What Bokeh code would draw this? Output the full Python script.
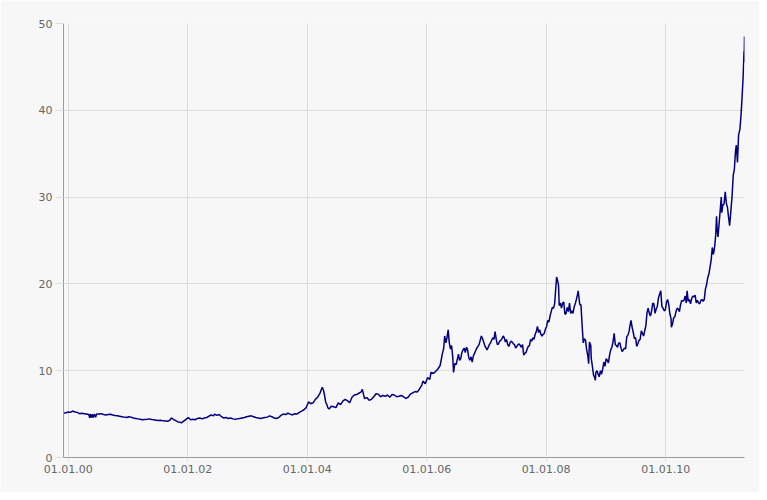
import pandas as pd
from bokeh.plotting import figure
from bokeh.models import FixedTicker, DatetimeTickFormatter, Range1d, ColumnDataSource
from bokeh.embed import file_html
from bokeh.resources import INLINE

# ---- data ----
price_points = """
1999-12-03 5.10
1999-12-17 5.15
2000-01-03 5.25
2000-01-14 5.20
2000-01-28 5.35
2000-02-11 5.25
2000-02-25 5.20
2000-03-10 5.05
2000-03-24 5.10
2000-04-07 5.05
2000-04-21 5.00
2000-05-05 4.95
2000-05-12 4.55
2000-05-15 5.00
2000-05-22 4.60
2000-05-26 4.98
2000-06-02 4.62
2000-06-09 5.00
2000-06-16 4.65
2000-06-23 5.02
2000-07-07 5.00
2000-07-21 5.05
2000-08-04 4.95
2000-08-18 4.90
2000-09-01 4.95
2000-09-15 4.98
2000-09-29 4.90
2000-10-13 4.85
2000-10-27 4.80
2000-11-10 4.75
2000-11-24 4.70
2000-12-08 4.65
2000-12-22 4.60
2001-01-05 4.70
2001-01-19 4.65
2001-02-02 4.55
2001-02-16 4.50
2001-03-02 4.45
2001-03-16 4.40
2001-03-30 4.35
2001-04-13 4.38
2001-04-27 4.40
2001-05-11 4.45
2001-05-25 4.38
2001-06-08 4.35
2001-06-22 4.30
2001-07-06 4.25
2001-07-20 4.28
2001-08-03 4.22
2001-08-17 4.20
2001-08-31 4.18
2001-09-14 4.30
2001-09-21 4.55
2001-10-05 4.40
2001-10-19 4.25
2001-11-02 4.10
2001-11-16 4.05
2001-11-23 4.00
2001-12-07 4.20
2001-12-21 4.40
2002-01-04 4.60
2002-01-18 4.35
2002-02-01 4.40
2002-02-15 4.35
2002-03-01 4.50
2002-03-15 4.55
2002-03-29 4.45
2002-04-12 4.55
2002-04-26 4.60
2002-05-10 4.75
2002-05-24 4.90
2002-06-07 4.80
2002-06-14 5.00
2002-06-28 4.85
2002-07-12 4.95
2002-07-26 4.70
2002-08-09 4.55
2002-08-23 4.60
2002-09-06 4.50
2002-09-20 4.55
2002-10-04 4.45
2002-10-18 4.40
2002-11-01 4.45
2002-11-15 4.50
2002-11-29 4.55
2002-12-13 4.60
2002-12-27 4.70
2003-01-10 4.75
2003-01-24 4.80
2003-02-07 4.70
2003-02-21 4.60
2003-03-07 4.55
2003-03-21 4.50
2003-04-04 4.55
2003-04-18 4.60
2003-05-02 4.65
2003-05-16 4.80
2003-05-30 4.70
2003-06-13 4.55
2003-06-27 4.50
2003-07-11 4.60
2003-07-25 4.85
2003-08-08 5.00
2003-08-22 4.95
2003-09-05 5.10
2003-09-19 5.00
2003-10-03 4.90
2003-10-17 5.05
2003-10-31 5.00
2003-11-14 5.20
2003-11-28 5.35
2003-12-12 5.50
2003-12-26 5.75
2004-01-09 6.40
2004-01-23 6.20
2004-02-06 6.30
2004-02-20 6.70
2004-03-05 6.95
2004-03-19 7.40
2004-04-02 8.10
2004-04-09 7.80
2004-04-16 7.20
2004-04-23 6.40
2004-04-30 6.10
2004-05-07 5.70
2004-05-14 5.60
2004-05-28 5.90
2004-06-11 5.85
2004-06-25 5.75
2004-07-09 6.30
2004-07-23 6.10
2004-08-06 6.50
2004-08-20 6.70
2004-09-03 6.55
2004-09-17 6.30
2004-10-01 6.95
2004-10-15 7.20
2004-10-29 7.25
2004-11-12 7.40
2004-11-26 7.55
2004-12-03 7.85
2004-12-10 7.30
2004-12-17 6.80
2004-12-31 6.90
2005-01-14 6.60
2005-01-28 6.70
2005-02-11 7.00
2005-02-25 7.35
2005-03-11 7.30
2005-03-25 7.00
2005-04-08 7.15
2005-04-22 7.05
2005-05-06 7.20
2005-05-20 6.95
2005-06-03 7.25
2005-06-17 7.20
2005-07-01 7.00
2005-07-15 7.05
2005-07-29 7.15
2005-08-12 7.00
2005-08-26 6.80
2005-09-09 6.95
2005-09-23 7.30
2005-10-07 7.45
2005-10-21 7.60
2005-11-04 7.55
2005-11-18 7.90
2005-12-02 8.35
2005-12-09 8.80
2005-12-23 8.50
2006-01-06 9.20
2006-01-20 9.00
2006-01-27 9.80
2006-02-10 9.70
2006-02-24 9.90
2006-03-10 10.20
2006-03-24 10.60
2006-04-07 12.00
2006-04-14 12.50
2006-04-21 14.00
2006-04-28 13.20
2006-05-05 13.80
2006-05-12 14.70
2006-05-19 13.20
2006-05-26 12.50
2006-06-02 12.90
2006-06-09 11.60
2006-06-14 9.80
2006-06-21 10.80
2006-06-30 10.70
2006-07-07 11.30
2006-07-14 11.90
2006-07-21 11.20
2006-07-28 11.40
2006-08-04 12.10
2006-08-11 12.40
2006-08-18 12.60
2006-08-25 12.10
2006-09-01 12.70
2006-09-08 12.40
2006-09-15 11.50
2006-09-22 11.20
2006-09-29 11.60
2006-10-06 11.00
2006-10-13 11.70
2006-10-20 12.00
2006-10-27 12.30
2006-11-03 12.60
2006-11-10 12.80
2006-11-17 13.00
2006-11-24 13.50
2006-12-01 14.00
2006-12-08 13.70
2006-12-15 13.30
2006-12-22 12.90
2007-01-05 12.40
2007-01-12 12.70
2007-01-19 13.00
2007-01-26 13.20
2007-02-02 13.50
2007-02-09 13.80
2007-02-16 13.60
2007-02-23 14.50
2007-03-02 13.60
2007-03-09 13.00
2007-03-16 13.10
2007-03-23 13.40
2007-03-30 13.50
2007-04-06 13.70
2007-04-13 14.00
2007-04-20 13.80
2007-04-27 13.30
2007-05-04 13.60
2007-05-11 13.00
2007-05-18 12.80
2007-05-25 13.20
2007-06-01 13.40
2007-06-08 13.30
2007-06-15 13.10
2007-06-22 13.00
2007-06-29 12.60
2007-07-06 12.80
2007-07-13 13.00
2007-07-20 13.10
2007-07-27 12.90
2007-08-03 12.70
2007-08-10 13.00
2007-08-17 11.80
2007-08-24 12.00
2007-08-31 12.10
2007-09-07 12.50
2007-09-14 12.80
2007-09-21 12.90
2007-09-28 13.60
2007-10-05 13.40
2007-10-12 13.80
2007-10-19 13.60
2007-10-26 14.20
2007-11-02 14.50
2007-11-09 15.10
2007-11-16 14.40
2007-11-23 14.70
2007-11-30 14.20
2007-12-07 14.00
2007-12-14 14.20
2007-12-21 14.30
2007-12-28 14.80
2008-01-04 15.10
2008-01-11 15.80
2008-01-18 15.60
2008-01-25 16.30
2008-02-01 16.80
2008-02-08 17.30
2008-02-15 17.20
2008-02-22 17.70
2008-02-29 19.50
2008-03-05 20.80
2008-03-12 20.30
2008-03-17 19.80
2008-03-21 17.50
2008-03-28 17.80
2008-04-04 17.20
2008-04-11 17.80
2008-04-18 17.90
2008-04-25 16.50
2008-05-02 16.60
2008-05-09 17.30
2008-05-16 16.80
2008-05-23 17.80
2008-05-30 16.60
2008-06-06 16.90
2008-06-13 16.60
2008-06-20 17.30
2008-06-27 17.70
2008-07-04 18.20
2008-07-11 18.80
2008-07-15 19.20
2008-07-25 17.60
2008-08-01 17.60
2008-08-08 15.30
2008-08-15 13.20
2008-08-22 13.70
2008-08-29 13.50
2008-09-05 12.40
2008-09-12 11.70
2008-09-17 10.80
2008-09-22 13.30
2008-09-30 12.90
2008-10-03 11.40
2008-10-10 10.50
2008-10-17 9.50
2008-10-24 9.20
2008-10-28 8.90
2008-10-31 9.80
2008-11-07 10.00
2008-11-14 9.60
2008-11-21 9.30
2008-11-28 10.00
2008-12-05 9.60
2008-12-12 10.20
2008-12-19 11.00
2008-12-26 10.50
2009-01-02 11.40
2009-01-09 11.20
2009-01-16 10.90
2009-01-23 11.80
2009-01-30 12.40
2009-02-06 12.70
2009-02-13 13.30
2009-02-20 14.30
2009-02-27 13.00
2009-03-06 12.90
2009-03-13 12.70
2009-03-20 13.20
2009-03-27 13.20
2009-04-03 12.60
2009-04-10 12.20
2009-04-17 12.40
2009-04-24 12.60
2009-05-01 12.50
2009-05-08 13.90
2009-05-15 14.10
2009-05-22 14.50
2009-05-29 15.30
2009-06-03 15.80
2009-06-10 15.00
2009-06-17 14.40
2009-06-24 13.70
2009-07-01 13.80
2009-07-08 12.80
2009-07-15 13.10
2009-07-22 13.50
2009-07-29 13.60
2009-08-05 14.60
2009-08-12 14.30
2009-08-19 14.00
2009-08-26 14.60
2009-09-02 15.20
2009-09-09 16.70
2009-09-16 17.20
2009-09-23 16.60
2009-09-30 16.30
2009-10-07 16.90
2009-10-14 17.80
2009-10-21 17.70
2009-10-28 16.60
2009-11-04 17.10
2009-11-11 17.40
2009-11-18 18.40
2009-11-25 18.80
2009-12-02 19.20
2009-12-09 17.40
2009-12-16 17.20
2009-12-23 16.90
2009-12-30 17.00
2010-01-06 17.90
2010-01-13 18.20
2010-01-20 17.60
2010-01-27 16.50
2010-02-03 16.00
2010-02-05 15.00
2010-02-12 15.40
2010-02-19 16.10
2010-02-26 16.20
2010-03-05 16.80
2010-03-12 17.20
2010-03-19 17.10
2010-03-26 16.80
2010-04-02 17.60
2010-04-09 18.10
2010-04-16 18.00
2010-04-23 18.10
2010-04-30 18.60
2010-05-07 17.80
2010-05-12 19.20
2010-05-19 18.00
2010-05-26 18.20
2010-06-02 17.70
2010-06-09 18.30
2010-06-16 18.60
2010-06-23 18.50
2010-06-30 18.70
2010-07-07 17.80
2010-07-14 18.10
2010-07-21 17.80
2010-07-28 17.70
2010-08-04 18.10
2010-08-11 18.20
2010-08-18 18.00
2010-08-25 18.20
2010-09-01 19.40
2010-09-08 19.90
2010-09-15 20.70
2010-09-22 21.10
2010-09-29 21.90
2010-10-06 22.70
2010-10-13 24.20
2010-10-20 23.40
2010-10-27 24.20
2010-11-03 25.60
2010-11-08 27.80
2010-11-12 26.20
2010-11-17 25.40
2010-11-24 27.00
2010-12-01 28.60
2010-12-07 30.00
2010-12-10 28.20
2010-12-17 29.10
2010-12-24 29.20
2010-12-31 30.60
2011-01-07 29.30
2011-01-14 28.80
2011-01-21 27.60
2011-01-27 26.70
2011-02-04 28.50
2011-02-11 30.10
2011-02-18 32.50
2011-02-25 33.20
2011-03-04 35.30
2011-03-09 36.00
2011-03-16 34.00
2011-03-23 37.20
2011-03-31 37.80
2011-04-07 39.50
2011-04-14 41.80
2011-04-20 44.00
2011-04-25 46.80
2011-04-26 45.50
2011-04-28 48.50
"""
rows = [r.split() for r in price_points.strip().splitlines()]
dates = pd.to_datetime([r[0] for r in rows])
prices = [float(r[1]) for r in rows]

x_tick_dates = ["2000-01-01", "2002-01-01", "2004-01-01", "2006-01-01", "2008-01-01", "2010-01-01"]
y_ticks = [0, 10, 20, 30, 40, 50]

# ---- figure ----
bg = "#f7f7f7"
grid = "#dddddd"
axis_c = "#999999"
label_c = "#666666"

p = figure(width=759, height=492, x_axis_type="datetime",
           output_backend="svg", toolbar_location=None,
           background_fill_color=bg, border_fill_color=bg,
           min_border_left=63, min_border_right=15,
           min_border_top=23, min_border_bottom=35)
p.outline_line_color = None

x0 = dates[0]
x1 = dates[-1]
p.x_range = Range1d(x0, x1)
p.y_range = Range1d(0, 50)

src = ColumnDataSource(dict(x=dates, y=prices))
p.line("x", "y", source=src, line_color="#000080", line_width=1.5)

tick_ms = [pd.Timestamp(d).value // 10**6 for d in x_tick_dates]
p.xaxis.ticker = FixedTicker(ticks=tick_ms)
p.xaxis.formatter = DatetimeTickFormatter(years="%d.%m.%y", months="%d.%m.%y",
                                          days="%d.%m.%y")
p.yaxis.ticker = FixedTicker(ticks=y_ticks)

for ax in (p.xaxis[0], p.yaxis[0]):
    ax.axis_line_color = axis_c
    ax.axis_line_width = 1
    ax.major_tick_line_color = grid
    ax.major_tick_in = 0
    ax.minor_tick_line_color = None
    ax.major_label_text_color = label_c
    ax.major_label_text_font = "DejaVu Sans"
    ax.major_label_text_font_size = "11px"
    ax.major_label_standoff = 3

p.yaxis.major_tick_out = 8
p.xaxis.major_tick_out = 4

p.xgrid.grid_line_color = grid
p.ygrid.grid_line_color = grid
p.xgrid.ticker = p.xaxis[0].ticker
p.ygrid.ticker = p.yaxis[0].ticker

open("out.html", "w").write(file_html(p, INLINE))
